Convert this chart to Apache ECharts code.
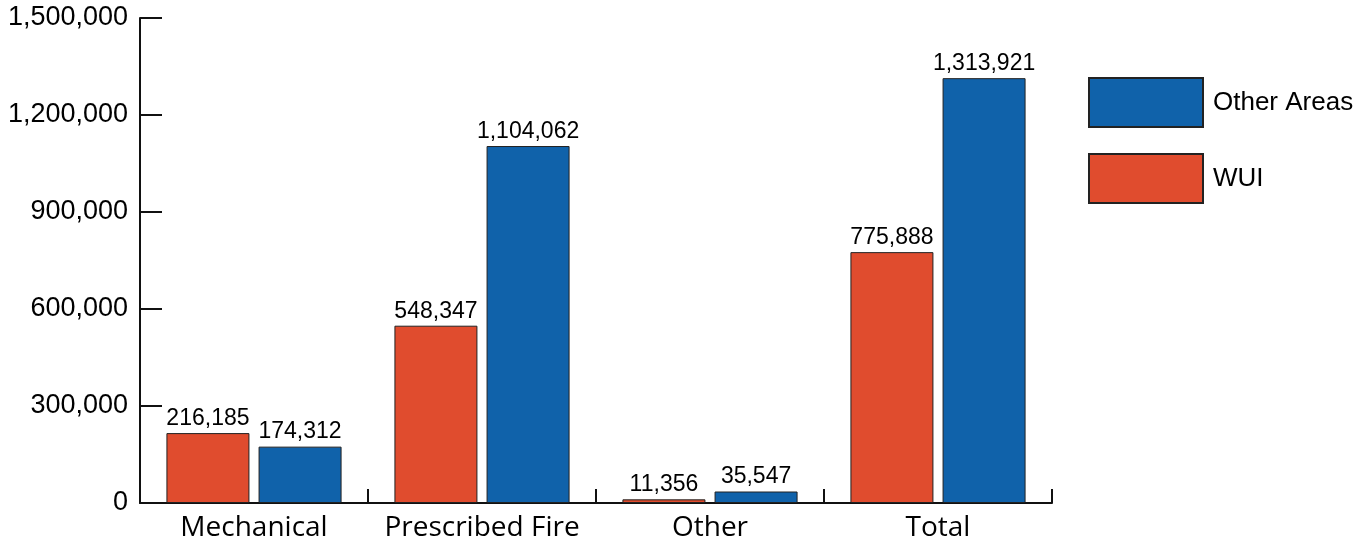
<!DOCTYPE html>
<html>
<head>
<meta charset="utf-8">
<script src="https://cdn.jsdelivr.net/npm/echarts@6/dist/echarts.min.js"></script>
<style>
  html, body { margin: 0; padding: 0; background: #fff; }
  #main { width: 1366px; height: 544px; }
</style>
</head>
<body>
<div id="main"></div>
<script>
  // data
  var categories = ['Mechanical', 'Prescribed Fire', 'Other', 'Total'];
  var wuiValues = [216185, 548347, 11356, 775888];
  var otherAreasValues = [174312, 1104062, 35547, 1313921];
  var yTicks = [0, 300000, 600000, 900000, 1200000, 1500000];

  var RED = '#e04c2e';
  var BLUE = '#1062aa';

  function fmt(v) {
    return String(v).replace(/\B(?=(\d{3})+(?!\d))/g, ',');
  }

  var chart = echarts.init(document.getElementById('main'));
  chart.setOption({
    animation: false,
    grid: { left: 140, right: 314, top: 18, bottom: 41, containLabel: false },
    legend: {
      orient: 'vertical',
      left: 1088,
      top: 77,
      padding: 0,
      itemWidth: 114,
      itemHeight: 49,
      itemGap: 25,
      data: ['Other Areas', 'WUI'],
      textStyle: { fontFamily: 'Liberation Sans', fontSize: 26, color: '#000', padding: [0, 0, 0, 5] },
      icon: 'rect'
    },
    xAxis: {
      type: 'category',
      data: categories,
      axisLine: { lineStyle: { color: '#111', width: 2 } },
      axisTick: { show: true, inside: true, length: 14, interval: 0, lineStyle: { color: '#111', width: 2 } },
      axisLabel: { interval: 0, fontFamily: 'Open Sans', fontSize: 28, color: '#000', margin: 11 }
    },
    yAxis: {
      type: 'value',
      min: yTicks[0],
      max: yTicks[yTicks.length - 1],
      interval: yTicks[1] - yTicks[0],
      splitLine: { show: false },
      axisLine: { show: true, lineStyle: { color: '#111', width: 2 } },
      axisTick: { show: true, inside: true, length: 22, lineStyle: { color: '#111', width: 2 } },
      axisLabel: { fontFamily: 'Liberation Sans', fontSize: 27, color: '#000', margin: 12, formatter: fmt }
    },
    series: [
      {
        name: 'WUI',
        type: 'bar',
        data: wuiValues,
        barWidth: 83,
        barGap: '11%',
        itemStyle: { color: RED, borderColor: '#222', borderWidth: 1 },
        label: {
          show: true, position: 'top', distance: 3,
          fontFamily: 'Liberation Sans', fontSize: 23, color: '#000',
          formatter: function (p) { return fmt(p.value); }
        }
      },
      {
        name: 'Other Areas',
        type: 'bar',
        data: otherAreasValues,
        barWidth: 83,
        barGap: '11%',
        itemStyle: { color: BLUE, borderColor: '#222', borderWidth: 1 },
        label: {
          show: true, position: 'top', distance: 3,
          fontFamily: 'Liberation Sans', fontSize: 23, color: '#000',
          formatter: function (p) { return fmt(p.value); }
        }
      }
    ]
  });
</script>
</body>
</html>
